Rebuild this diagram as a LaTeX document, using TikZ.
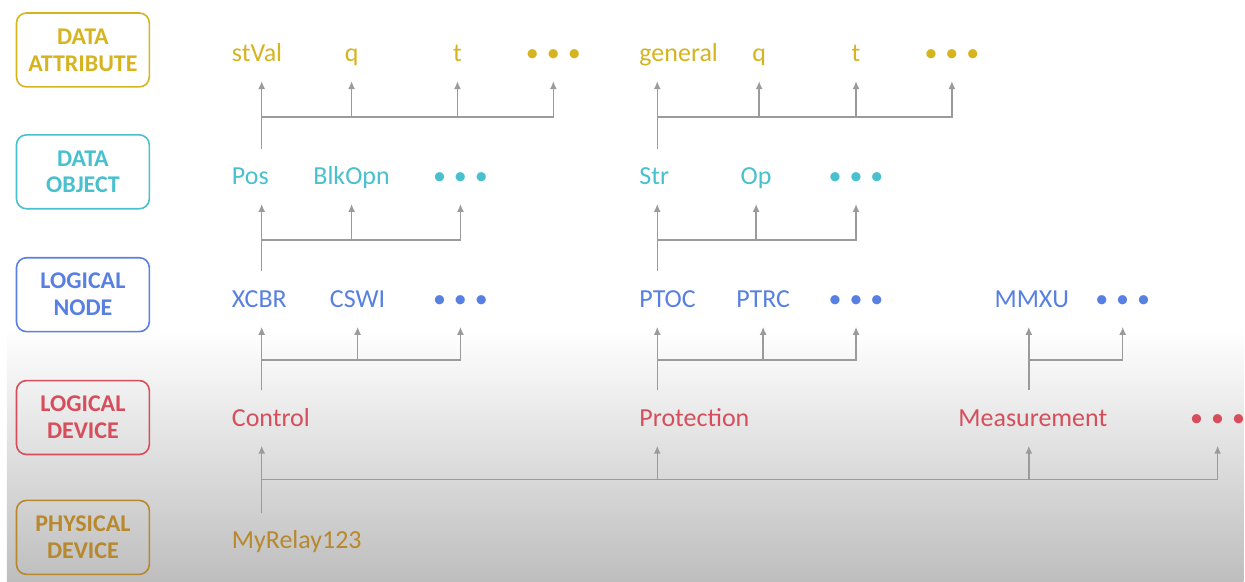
\documentclass[tikz,border=0pt]{standalone}
\usepackage{fontspec}
\setmainfont{Carlito}
\usepackage{tikz}
\usetikzlibrary{arrows.meta,positioning}

\definecolor{attrgold}{RGB}{214,180,32}
\definecolor{objcyan}{RGB}{72,192,206}
\definecolor{nodeblue}{RGB}{88,128,226}
\definecolor{devred}{RGB}{214,78,92}
\definecolor{physbrown}{RGB}{184,136,44}
\definecolor{linegray}{RGB}{155,155,155}
\definecolor{bggray}{RGB}{190,190,190}

\tikzset{
  tierbox/.style={draw=#1, text=#1, rounded corners=10pt, line width=1.6pt,
    minimum width=133pt, minimum height=74pt, align=center,
    font=\bfseries\fontsize{24}{27}\selectfont},
  tierlbl/.style={text=#1, inner sep=0pt, minimum height=30pt, text height=18pt,
    text depth=5pt, font=\fontsize{26}{30}\selectfont},
  link/.style={draw=linegray, line width=1.5pt, -{Latex[length=8pt,width=7pt]},
    shorten <=14pt, shorten >=11pt},
  branch/.style={link, shorten <=0pt},
}
\newcommand{\more}{\textbullet\hspace{8pt}\textbullet\hspace{8pt}\textbullet}

\begin{document}
\begin{tikzpicture}[x=1pt,y=-1pt]
  % background
  \fill[white] (0,0) rectangle (1245,582);
  \shade[top color=white, bottom color=bggray] (7,330) rectangle (1245,582);

  % level boxes
  \node (da) [tierbox=attrgold] at (83,50) {DATA\\ATTRIBUTE};
  \node (do) [tierbox=objcyan] at (83,172) {DATA\\OBJECT};
  \node (ln) [tierbox=nodeblue] at (83,295) {LOGICAL\\NODE};
  \node (ld) [tierbox=devred] at (83,418) {LOGICAL\\DEVICE};
  \node (pd) [tierbox=physbrown] at (83,538) {PHYSICAL\\DEVICE};

  % stem columns
  \coordinate (sA) at (262,0);
  \coordinate (sB) at (658,0);
  \coordinate (sC) at (1030,0);

  % data attributes
  \node (stVal) [tierlbl=attrgold, anchor=west] at (232,55) {stVal};
  \node (qA) [tierlbl=attrgold] at (352,55) {q};
  \node (tA) [tierlbl=attrgold] at (458,55) {t};
  \node (moreA) [tierlbl=attrgold] at (554,55) {\more};
  \node (general) [tierlbl=attrgold, anchor=west] at (640,55) {general};
  \node (qB) [tierlbl=attrgold] at (760,55) {q};
  \node (tB) [tierlbl=attrgold] at (857,55) {t};
  \node (moreB) [tierlbl=attrgold] at (953,55) {\more};

  % data objects
  \node (Pos) [tierlbl=objcyan, anchor=west] at (232,178) {Pos};
  \node (BlkOpn) [tierlbl=objcyan] at (352,178) {BlkOpn};
  \node (moreO1) [tierlbl=objcyan] at (461,178) {\more};
  \node (Str) [tierlbl=objcyan, anchor=west] at (640,178) {Str};
  \node (Op) [tierlbl=objcyan] at (757,178) {Op};
  \node (moreO2) [tierlbl=objcyan] at (857,178) {\more};

  % logical nodes
  \node (XCBR) [tierlbl=nodeblue, anchor=west] at (232,301) {XCBR};
  \node (CSWI) [tierlbl=nodeblue] at (358,301) {CSWI};
  \node (moreN1) [tierlbl=nodeblue] at (461,301) {\more};
  \node (PTOC) [tierlbl=nodeblue, anchor=west] at (640,301) {PTOC};
  \node (PTRC) [tierlbl=nodeblue] at (764,301) {PTRC};
  \node (moreN2) [tierlbl=nodeblue] at (857,301) {\more};
  \node (MMXU) [tierlbl=nodeblue] at (1033,301) {MMXU};
  \node (moreN3) [tierlbl=nodeblue] at (1124,301) {\more};

  % logical devices
  \node (Control) [tierlbl=devred, anchor=west] at (232,420) {Control};
  \node (Protection) [tierlbl=devred, anchor=west] at (640,420) {Protection};
  \node (Measurement) [tierlbl=devred] at (1034,420) {Measurement};
  \node (moreD) [tierlbl=devred] at (1219,420) {\more};

  % physical device
  \node (MyRelay) [tierlbl=physbrown, anchor=west] at (232,543) {MyRelay123};

  % Pos -> attributes
  \draw[link] (Pos.north -| sA) -- ([yshift=-47pt]stVal.south -| sA) coordinate (barA) -| (moreA.south);
  \draw[branch] (barA) -- (stVal.south -| sA);
  \foreach \c in {qA,tA} \draw[branch] (\c.south |- barA) -- (\c.south);

  % Str -> attributes
  \draw[link] (Str.north -| sB) -- ([yshift=-47pt]general.south -| sB) coordinate (barB) -| (moreB.south);
  \draw[branch] (barB) -- (general.south -| sB);
  \foreach \c in {qB,tB} \draw[branch] (\c.south |- barB) -- (\c.south);

  % XCBR -> objects
  \draw[link] (XCBR.north -| sA) -- ([yshift=-47pt]Pos.south -| sA) coordinate (barO1) -| (moreO1.south);
  \draw[branch] (barO1) -- (Pos.south -| sA);
  \draw[branch] (BlkOpn.south |- barO1) -- (BlkOpn.south);

  % PTOC -> objects
  \draw[link] (PTOC.north -| sB) -- ([yshift=-47pt]Str.south -| sB) coordinate (barO2) -| (moreO2.south);
  \draw[branch] (barO2) -- (Str.south -| sB);
  \draw[branch] (Op.south |- barO2) -- (Op.south);

  % Control -> nodes
  \draw[link] (Control.north -| sA) -- ([yshift=-44pt]XCBR.south -| sA) coordinate (barN1) -| (moreN1.south);
  \draw[branch] (barN1) -- (XCBR.south -| sA);
  \draw[branch] (CSWI.south |- barN1) -- (CSWI.south);

  % Protection -> nodes
  \draw[link] (Protection.north -| sB) -- ([yshift=-44pt]PTOC.south -| sB) coordinate (barN2) -| (moreN2.south);
  \draw[branch] (barN2) -- (PTOC.south -| sB);
  \draw[branch] (PTRC.south |- barN2) -- (PTRC.south);

  % Measurement -> nodes
  \draw[link] (Measurement.north -| sC) -- ([yshift=-44pt]MMXU.south -| sC) coordinate (barN3) -| (moreN3.south);
  \draw[branch] (barN3) -- (MMXU.south -| sC);

  % MyRelay123 -> devices
  \draw[link] (MyRelay.north -| sA) -- ([yshift=-45pt]Control.south -| sA) coordinate (barD) -| (moreD.south);
  \draw[branch] (barD) -- (Control.south -| sA);
  \draw[branch] (barD -| sB) -- (Protection.south -| sB);
  \draw[branch] (barD -| sC) -- (Measurement.south -| sC);
\end{tikzpicture}
\end{document}
